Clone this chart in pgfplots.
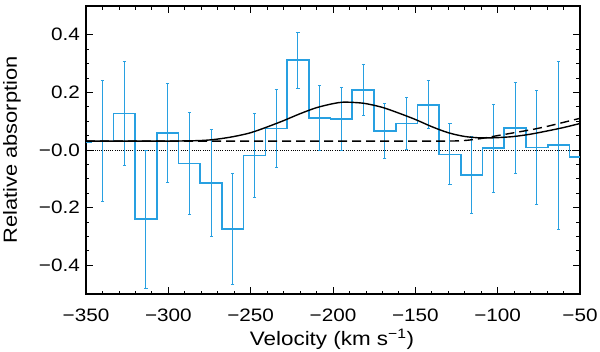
\documentclass[border=0pt]{standalone}
\usepackage{fontspec}
\setmainfont{Liberation Sans}[FakeStretch=1.15]
\usepackage{pgfplots}
\pgfplotsset{compat=1.18}
\definecolor{histblue}{RGB}{40,160,225}

\begin{document}
\begin{tikzpicture}
\begin{axis}[
    at={(0,0)}, anchor=south west,
    scale only axis,
    width=494pt, height=288pt,
    xmin=-350, xmax=-50,
    ymin=-0.5, ymax=0.5,
    xtick={-350,-300,-250,-200,-150,-100,-50},
    xticklabels={−350,−300,−250,−200,−150,−100,−50},
    ytick={-0.4,-0.2,0,0.2,0.4},
    yticklabels={−0.4,−0.2,−0.0,0.2,0.4},
    minor x tick num=4,
    minor y tick num=3,
    tick align=inside,
    major tick length=7pt,
    minor tick length=3.5pt,
    every tick/.style={black, line width=0.8pt},
    axis line style={line width=1.2pt},
    ticklabel style={font=\fontsize{18}{20}\selectfont},
    xticklabel style={anchor=base, yshift=-27.5pt},
    yticklabel style={anchor=east, inner sep=0pt, xshift=-6pt},
    clip=true,
]
% zero line
\addplot[black, line width=0.5pt, dash pattern=on 0.6pt off 1.6pt] coordinates {(-350,0) (-50,0)};

% histogram (bin width ~13.2 km/s)
\addplot[histblue, line width=1.6pt, const plot] coordinates {
(-350.0,0.026) (-346.6,0.030) (-333.4,0.127) (-320.2,-0.240) (-307.0,0.060)
(-293.8,-0.047) (-280.6,-0.114) (-267.5,-0.274) (-254.3,-0.019) (-241.1,0.074)
(-227.9,0.312) (-214.7,0.112) (-201.5,0.108) (-188.3,0.209) (-175.1,0.066)
(-161.9,0.092) (-148.7,0.157) (-135.6,-0.015) (-122.4,-0.086) (-109.2,0.006)
(-96.0,0.077) (-82.8,0.008) (-69.6,0.017) (-56.4,-0.024) (-50.0,-0.024)
};

% error bars at bin centres
\addplot[histblue, draw=none, mark=none,
    error bars/.cd, y dir=both, y explicit,
    error bar style={line width=1pt, histblue},
    error mark options={histblue, rotate=90, mark size=1.6pt, line width=1pt}]
  coordinates {
(-340.0,0.030) +- (0,0.210)
(-326.8,0.127) +- (0,0.180)
(-313.6,-0.240) +- (0,0.240)
(-300.4,0.060) +- (0,0.172)
(-287.2,-0.047) +- (0,0.178)
(-274.0,-0.114) +- (0,0.185)
(-260.9,-0.274) +- (0,0.193)
(-247.7,-0.019) +- (0,0.146)
(-234.5,0.074) +- (0,0.136)
(-221.3,0.312) +- (0,0.097)
(-208.1,0.112) +- (0,0.112)
(-194.9,0.108) +- (0,0.109)
(-181.7,0.209) +- (0,0.088)
(-168.5,0.066) +- (0,0.095)
(-155.3,0.092) +- (0,0.090)
(-142.2,0.157) +- (0,0.084)
(-129.0,-0.015) +- (0,0.106)
(-115.8,-0.086) +- (0,0.133)
(-102.6,0.006) +- (0,0.153)
(-89.4,0.077) +- (0,0.158)
(-76.2,0.008) +- (0,0.197)
(-63.0,0.017) +- (0,0.292)
};

% model with absorption (solid)
\addplot[black, line width=1.4pt, smooth] coordinates {
(-350,0.031) (-300,0.031) (-280,0.033) (-270,0.038) (-260,0.047) (-250,0.060)
(-240,0.080) (-230,0.102) (-220,0.126) (-210,0.147) (-200,0.161) (-194,0.166)
(-187,0.165) (-180,0.161) (-170,0.148) (-160,0.128) (-150,0.106) (-140,0.081)
(-130,0.060) (-120,0.047) (-110,0.042) (-100,0.043) (-90,0.047) (-80,0.055)
(-70,0.066) (-60,0.078) (-50,0.092)
};

% continuum (dashed)
\addplot[black, line width=1.4pt, dash pattern=on 9pt off 5pt, smooth] coordinates {
(-350,0.031) (-250,0.031) (-150,0.031) (-130,0.031) (-120,0.033) (-110,0.040)
(-100,0.050) (-90,0.060) (-80,0.070) (-70,0.082) (-60,0.096) (-50,0.110)
};
\end{axis}
\node[anchor=base, font=\fontsize{19.5}{22}\selectfont] at (246pt,-51.7pt) {Velocity (km s\textsuperscript{−1})};
\node[anchor=base, rotate=90, font=\fontsize{19}{22}\selectfont] at (-69pt,144pt) {Relative absorption};
\pgfresetboundingbox
\path[use as bounding box] (-86pt,-57pt) rectangle (514pt,294pt);
\end{tikzpicture}
\end{document}
